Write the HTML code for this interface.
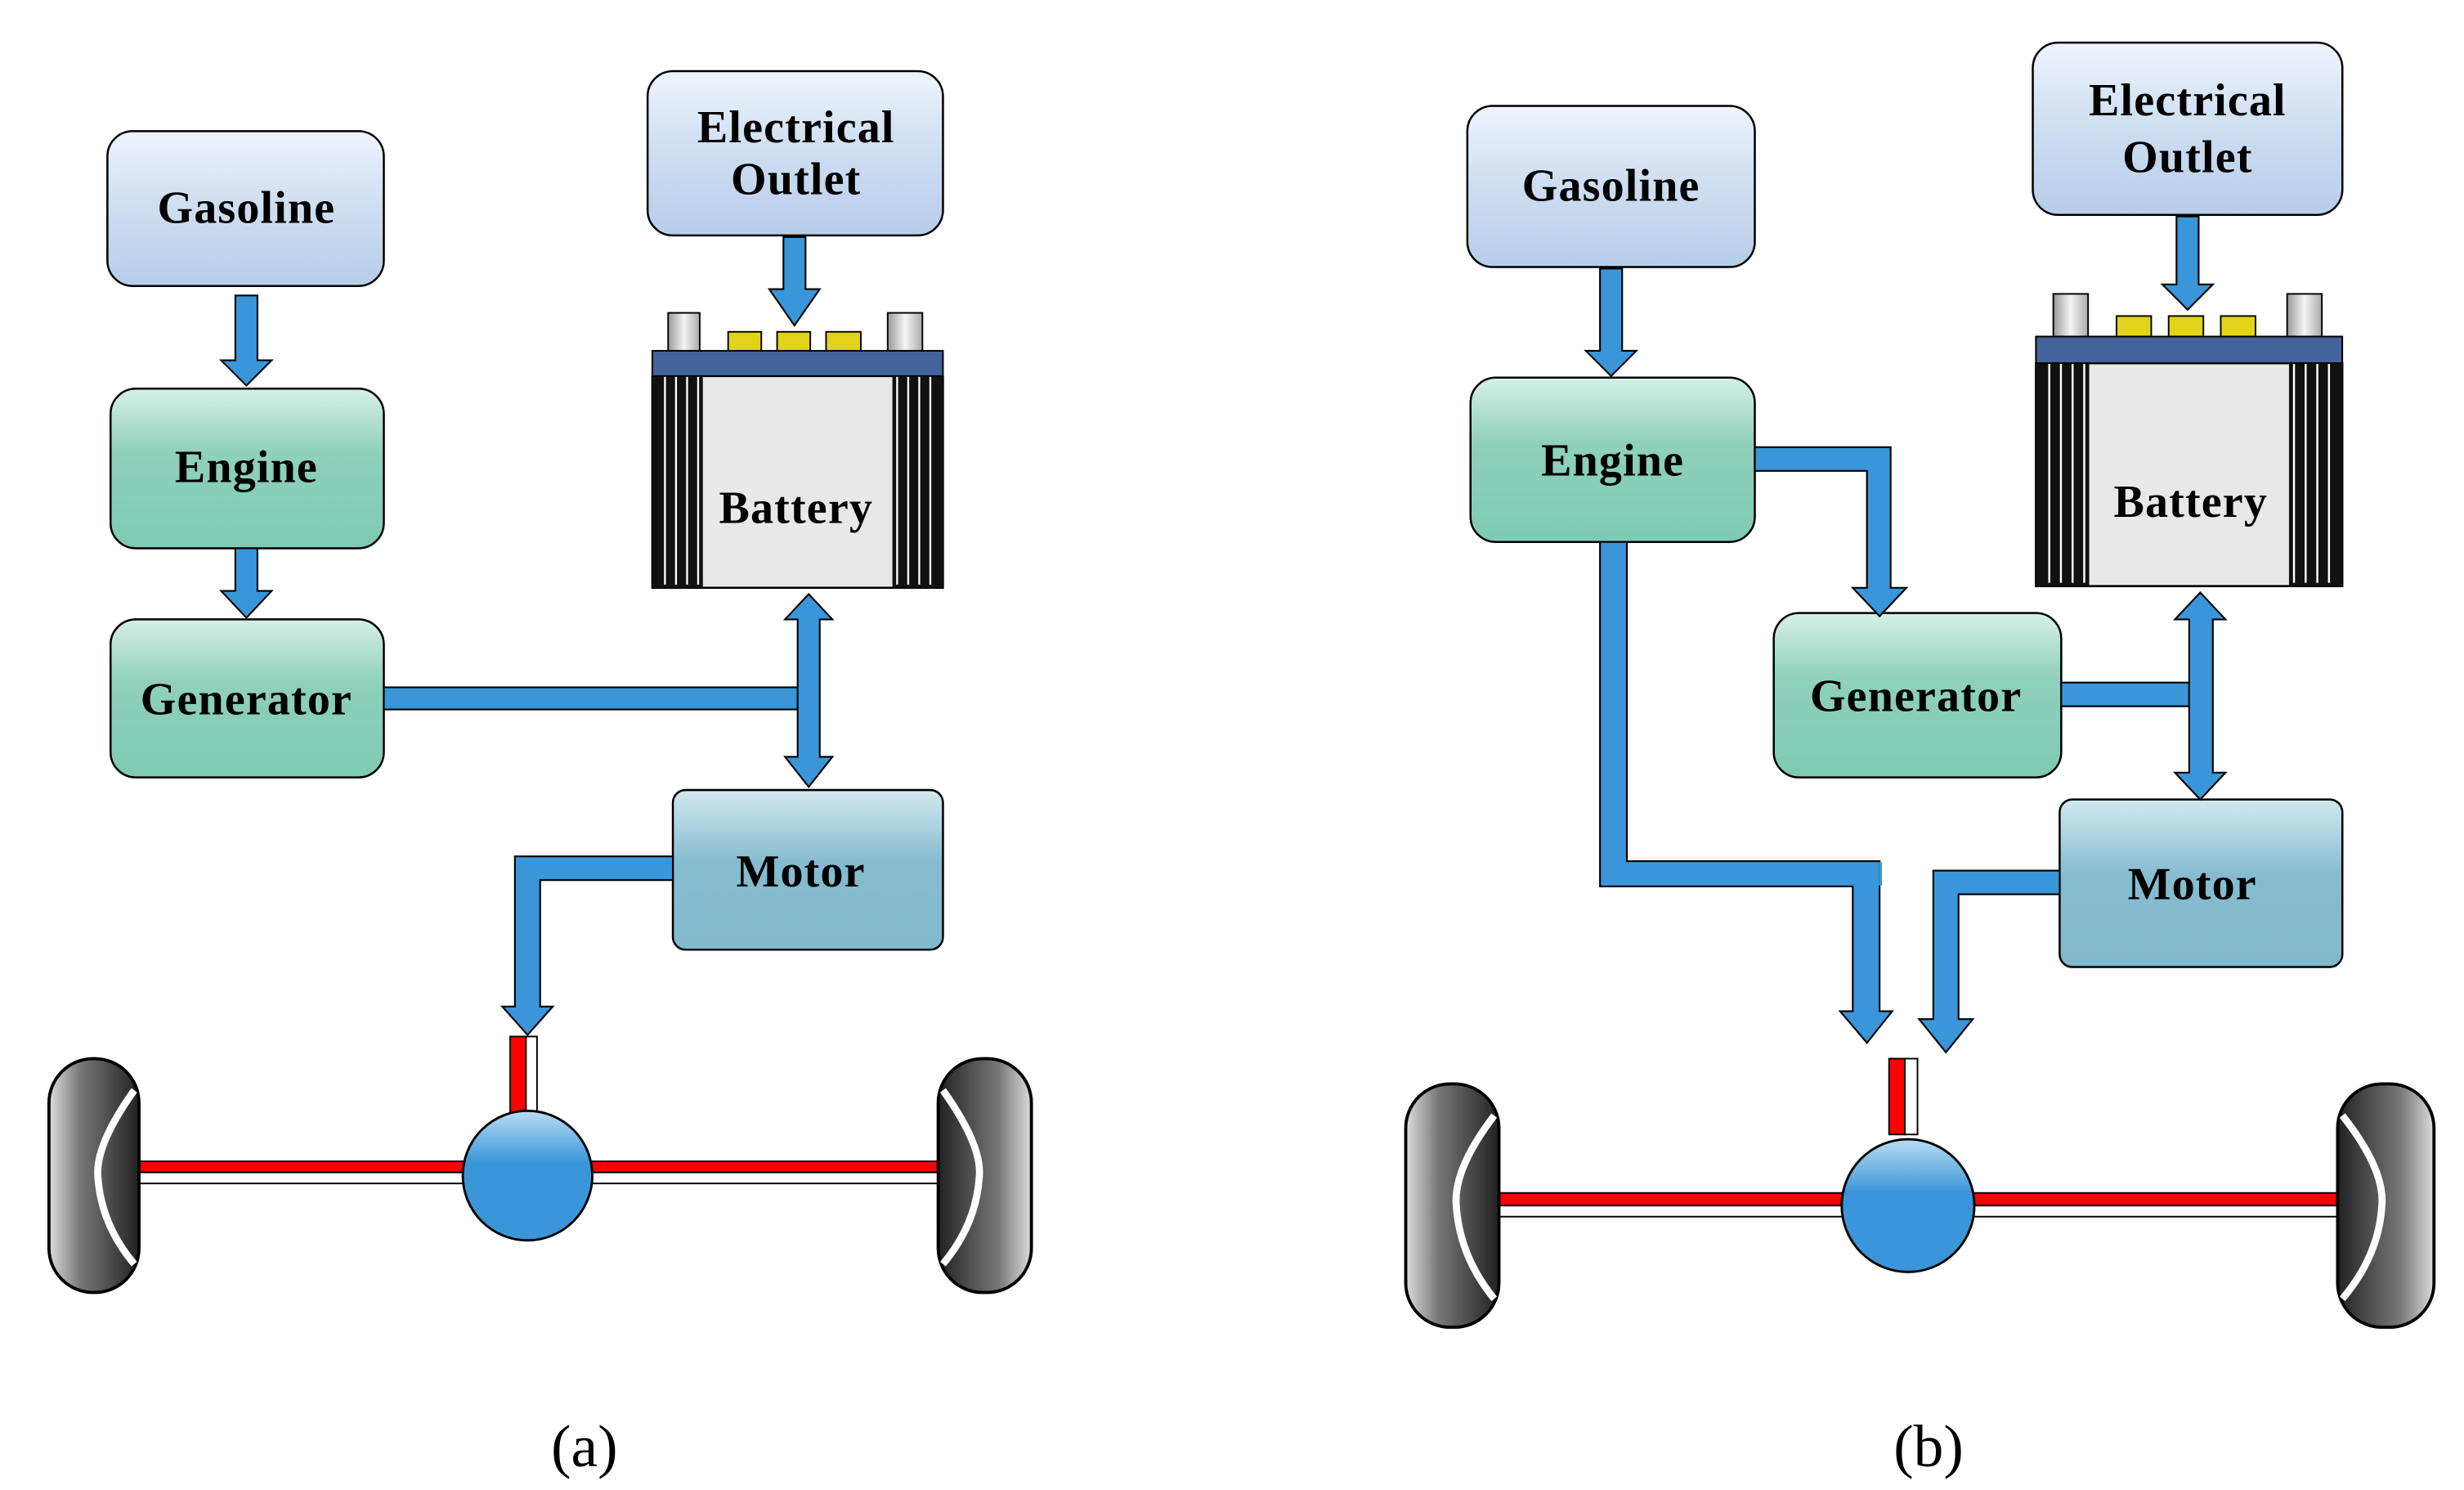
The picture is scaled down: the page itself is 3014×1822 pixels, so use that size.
<!DOCTYPE html>
<html><head><meta charset="utf-8"><style>html,body{margin:0;padding:0;background:#fff}svg{display:block}</style></head>
<body>
<svg width="3014" height="1822" viewBox="0 0 1560 943" preserveAspectRatio="none" xmlns="http://www.w3.org/2000/svg">
<defs>
<linearGradient id="gb" x1="0" y1="0" x2="0" y2="1"><stop offset="0" stop-color="#eef4fc"/><stop offset="0.45" stop-color="#d0dff2"/><stop offset="1" stop-color="#b7cde9"/></linearGradient>
<linearGradient id="gg" x1="0" y1="0" x2="0" y2="1"><stop offset="0" stop-color="#d6f0e6"/><stop offset="0.4" stop-color="#8fd0bb"/><stop offset="1" stop-color="#7ecab4"/></linearGradient>
<linearGradient id="gm" x1="0" y1="0" x2="0" y2="1"><stop offset="0" stop-color="#d2e8ef"/><stop offset="0.45" stop-color="#86bcd0"/><stop offset="1" stop-color="#80b8cc"/></linearGradient>
<linearGradient id="gd" x1="0" y1="0" x2="0" y2="1"><stop offset="0" stop-color="#b9dcf5"/><stop offset="0.4" stop-color="#3a96d8"/><stop offset="1" stop-color="#3a96d8"/></linearGradient>
<linearGradient id="wl" x1="0" y1="0" x2="1" y2="0"><stop offset="0" stop-color="#ddd"/><stop offset="0.35" stop-color="#777"/><stop offset="1" stop-color="#222"/></linearGradient>
<linearGradient id="wr" x1="1" y1="0" x2="0" y2="0"><stop offset="0" stop-color="#ddd"/><stop offset="0.35" stop-color="#777"/><stop offset="1" stop-color="#222"/></linearGradient>
<linearGradient id="post" x1="0" y1="0" x2="1" y2="0"><stop offset="0" stop-color="#999"/><stop offset="0.5" stop-color="#f4f4f4"/><stop offset="1" stop-color="#aaa"/></linearGradient>
<g id="battery">
<rect x="0" y="16" width="184" height="134" fill="#e8e8e8" stroke="#000" stroke-width="1.3"/>
<rect x="0" y="16" width="32" height="134" fill="#111"/>
<rect x="152" y="16" width="32" height="134" fill="#111"/>
<g stroke="#fff" stroke-width="1.2">
<line x1="8" y1="16" x2="8" y2="148"/><line x1="15" y1="16" x2="15" y2="148"/><line x1="22" y1="16" x2="22" y2="148"/><line x1="29" y1="16" x2="29" y2="148"/>
<line x1="155" y1="16" x2="155" y2="148"/><line x1="162" y1="16" x2="162" y2="148"/><line x1="169" y1="16" x2="169" y2="148"/><line x1="176" y1="16" x2="176" y2="148"/>
</g>
<rect x="0" y="0" width="184" height="16" fill="#44629b" stroke="#000" stroke-width="1"/>
</g>
</defs>

<g fill="#000" stroke="#000" stroke-width="1.3">
<rect x="68" y="83" width="175" height="98" rx="16" fill="url(#gb)"/>
<rect x="410" y="45" width="187" height="104" rx="16" fill="url(#gb)"/>
<rect x="70" y="246" width="173" height="101" rx="16" fill="url(#gg)"/>
<rect x="70" y="392" width="173" height="100" rx="16" fill="url(#gg)"/>
<rect x="426" y="500" width="171" height="101" rx="8" fill="url(#gm)"/>
<rect x="929" y="67" width="182" height="102" rx="16" fill="url(#gb)"/>
<rect x="1287" y="27" width="196" height="109" rx="16" fill="url(#gb)"/>
<rect x="931" y="239" width="180" height="104" rx="16" fill="url(#gg)"/>
<rect x="1123" y="388" width="182" height="104" rx="16" fill="url(#gg)"/>
<rect x="1304" y="506" width="179" height="106" rx="8" fill="url(#gm)"/>
</g>

<g stroke="#000" stroke-width="1">
<rect x="423" y="198" width="20" height="24" fill="url(#post)"/><rect x="562" y="198" width="22" height="24" fill="url(#post)"/>
<rect x="461" y="210" width="21" height="12" fill="#e2d21a"/><rect x="492" y="210" width="21" height="12" fill="#e2d21a"/><rect x="523" y="210" width="22" height="12" fill="#e2d21a"/>
<rect x="1300" y="186" width="22" height="27" fill="url(#post)"/><rect x="1448" y="186" width="22" height="27" fill="url(#post)"/>
<rect x="1340" y="200" width="22" height="13" fill="#e2d21a"/><rect x="1373" y="200" width="22" height="13" fill="#e2d21a"/><rect x="1406" y="200" width="22" height="13" fill="#e2d21a"/>
</g>
<use href="#battery" x="413" y="222"/>
<g transform="translate(1289,213) scale(1.054,1.053)"><use href="#battery"/></g>

<g fill="#3a96d8" stroke="#000" stroke-width="1.1" stroke-linejoin="miter">
<polygon points="149,187 163,187 163,228 172,228 156,244 140,228 149,228"/>
<polygon points="149,347 163,347 163,374 172,374 156,391 140,374 149,374"/>
<polygon points="496,150 510,150 510,183 519,183 503,206 487,183 496,183"/>
<rect x="243" y="435" width="262" height="14"/>
<polygon points="505,392 497,392 512,376 527,392 519,392 519,479 527,479 512,498 497,479 505,479"/>
<polygon points="426,542 326,542 326,637 318,637 334,655 350,637 342,637 342,557 426,557"/>

<polygon points="1013,170 1027,170 1027,222 1036,222 1020,238 1004,222 1013,222"/>
<polygon points="1378,137 1392,137 1392,180 1401,180 1385,196 1369,180 1378,180"/>
<polygon points="1111,283 1197,283 1197,372 1207,372 1190,390 1173,372 1182,372 1182,298 1111,298"/>
<polygon points="1013,343 1030,343 1030,545 1190,545 1190,640 1198,640 1182,660 1165,640 1173,640 1173,561 1013,561"/>
<rect x="1305" y="432" width="81" height="15"/>
<polygon points="1386,392 1377,392 1393,375 1409,392 1401,392 1401,489 1409,489 1393,506 1377,489 1386,489"/>
<polygon points="1304,551 1224,551 1224,645 1215,645 1232,666 1249,645 1240,645 1240,566 1304,566"/>
</g>
<rect x="1189.5" y="545.6" width="2" height="14.8" fill="#3a96d8"/>

<g stroke="#000" stroke-width="1">
<rect x="323" y="656" width="10" height="48" fill="#f00"/><rect x="333" y="656" width="7" height="48" fill="#fff"/>
<rect x="88" y="735" width="508" height="7" fill="#f00"/><rect x="88" y="742" width="508" height="7" fill="#fff"/>
<rect x="1196" y="670" width="10" height="48" fill="#f00"/><rect x="1206" y="670" width="8" height="48" fill="#fff"/>
<rect x="948" y="755" width="534" height="8" fill="#f00"/><rect x="948" y="763" width="534" height="7" fill="#fff"/>
</g>
<g stroke="#000" stroke-width="1.5">
<ellipse cx="334" cy="744" rx="41" ry="41" fill="url(#gd)"/>
<ellipse cx="1208" cy="763" rx="42" ry="42" fill="url(#gd)"/>
<rect x="31" y="670" width="57" height="148" rx="28" fill="url(#wl)" stroke-width="2"/>
<rect x="594" y="670" width="59" height="148" rx="28" fill="url(#wr)" stroke-width="2"/>
<rect x="890" y="686" width="59" height="154" rx="28" fill="url(#wl)" stroke-width="2"/>
<rect x="1480" y="686" width="61" height="154" rx="28" fill="url(#wr)" stroke-width="2"/>
</g>
<g fill="none" stroke="#fff" stroke-width="4.5">
<path d="M85,690 Q60,725 62,745 Q64,775 85,800"/>
<path d="M597,690 Q622,725 620,745 Q618,775 597,800"/>
<path d="M946,706 Q920,740 922,763 Q924,795 946,822"/>
<path d="M1483,706 Q1510,740 1508,763 Q1506,795 1483,822"/>
</g>

<g font-family="Liberation Serif, serif" font-weight="bold" font-size="29" letter-spacing="0.6" text-anchor="middle" fill="#000">
<text x="156" y="141">Gasoline</text>
<text x="504" y="90">Electrical</text><text x="504" y="123">Outlet</text>
<text x="156" y="305">Engine</text>
<text x="156" y="452">Generator</text>
<text x="504" y="331">Battery</text>
<text x="507" y="561">Motor</text>
<text x="1020" y="127">Gasoline</text>
<text x="1385" y="73">Electrical</text><text x="1385" y="109">Outlet</text>
<text x="1021" y="301">Engine</text>
<text x="1213" y="450">Generator</text>
<text x="1387" y="327">Battery</text>
<text x="1388" y="569">Motor</text>
</g>
<g font-family="Liberation Serif, serif" font-size="38" text-anchor="middle" fill="#000">
<text x="370" y="928">(a)</text>
<text x="1221" y="928">(b)</text>
</g>
</svg>
</body></html>
